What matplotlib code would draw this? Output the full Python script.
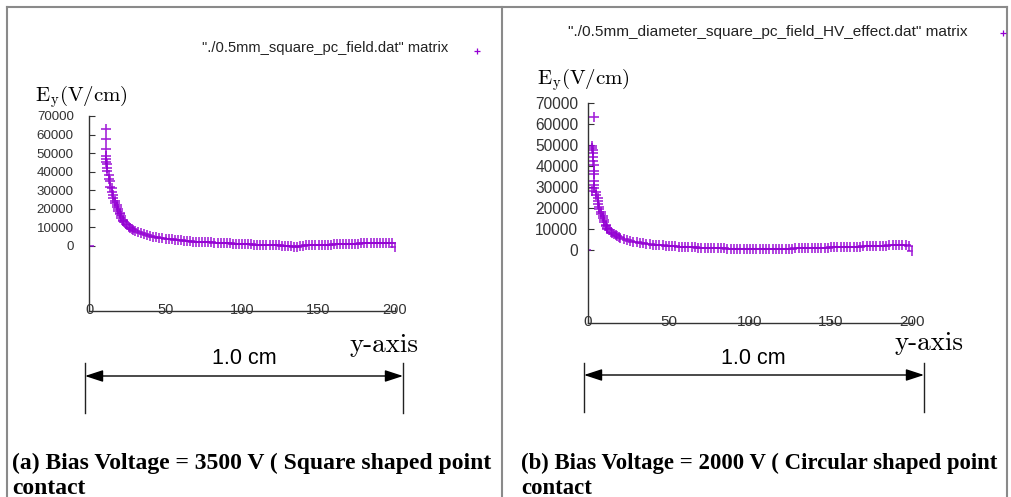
import numpy as np
import matplotlib
matplotlib.use("Agg")
import matplotlib.pyplot as plt
from matplotlib.lines import Line2D
from matplotlib.patches import FancyArrowPatch

plt.rcParams.update({"font.family": "Liberation Sans", "mathtext.fontset": "cm"})

W, H = 1011, 497
PURPLE = "#9400d3"

# ---- data: E_y (V/cm) vs grid index along y ----
# (a) 3500 V, square point contact
a_head_x = [0, 11, 11, 11, 11, 11, 11, 12, 12, 12, 13, 13, 14, 14, 15, 15, 16, 16, 17, 17,
            18, 18, 19, 19, 20, 20, 21, 21, 22, 22, 23, 24, 25, 26, 27, 28, 29]
a_head_y = [0, 63000, 57500, 52000, 48500, 47000, 45500, 44000, 42000, 40500, 38000, 36000,
            35000, 32000, 31500, 29000, 27500, 26000, 24500, 23000, 22000, 21000, 20000, 19000,
            18000, 17000, 16000, 15000, 14200, 13500, 12800, 12000, 11200, 10500, 9800, 9200, 8600]
a_tail_x = list(range(30, 200, 2)) + [200]
a_tail_y = [8000, 7400, 6800, 6300, 5900, 5500, 5100, 4800, 4500, 4200,
            4000, 3800, 3600, 3400, 3200, 3000, 2900, 2700, 2600, 2400,
            2300, 2200, 2100, 2000, 1900, 1900, 1800, 1700, 1600, 1500,
            1500, 1400, 1300, 1200, 1200, 1100, 1000, 900, 900, 800,
            700, 700, 600, 500, 500, 400, 300, 300, 200, 100,
            0, -200, -400, -300, 0, 200, 300, 400, 500, 500,
            600, 700, 700, 800, 800, 900, 900, 1000, 1000, 1100,
            1100, 1200, 1200, 1300, 1400, 1500, 1600, 1700, 1700, 1800,
            1800, 1700, 1700, 1600, 1500, -500]

# (b) 2000 V, circular point contact
b_head_x = [-1, 4, 2.5, 2.5, 3, 3, 3, 3, 4, 4, 4, 3.5, 3.5, 3.5, 2.5, 5, 5, 6, 6, 6,
            7, 7, 8, 8, 9, 9, 10, 10, 11, 11, 12, 12, 13, 14, 15, 16, 17, 18, 19, 20,
            22, 24, 26, 28]
b_head_y = [0, 63300, 49500, 48500, 47500, 46000, 44000, 42500, 40500, 37500, 36000,
            33000, 31000, 29500, 28000, 27500, 26000, 24500, 23000, 22000, 20500, 19500,
            18000, 17000, 16000, 15000, 14000, 13000, 12000, 11200, 10500, 10000, 9300,
            8600, 8000, 7400, 6900, 6400, 6000, 5600, 5000, 4500, 4100, 3800]
b_tail_x = list(range(30, 200, 2)) + [200]
b_tail_y = [3500, 3200, 3000, 2800, 2600, 2400, 2300, 2100, 2000, 1900,
            1800, 1700, 1600, 1500, 1400, 1300, 1200, 1100, 1100, 1000,
            900, 900, 800, 800, 700, 700, 600, 600, 500, 500,
            500, 400, 400, 400, 400, 300, 300, 300, 300, 300,
            300, 300, 400, 400, 400, 400, 500, 500, 500, 600,
            600, 700, 700, 800, 800, 800, 900, 900, 1000, 1000,
            1100, 1100, 1200, 1200, 1300, 1300, 1400, 1400, 1500, 1500,
            1600, 1600, 1700, 1700, 1800, 1800, 1900, 1900, 2000, 2000,
            2000, 2100, 2100, 2000, 1800, -400]

YTICKS = list(range(0, 70001, 10000))
XTICKS = [0, 50, 100, 150, 200]

legend_a = '"./0.5mm_square_pc_field.dat" matrix'
legend_b = '"./0.5mm_diameter_square_pc_field_HV_effect.dat" matrix'
cap_a = ["(a) Bias Voltage = 3500 V ( Square shaped point", "contact"]
cap_b = ["(b) Bias Voltage = 2000 V ( Circular shaped point", "contact"]


def fx(x):
    return x / W


def fy(y):
    return 1 - y / H


fig = plt.figure(figsize=(W / 100, H / 100), dpi=100)


def panel(rect, xs, ys, ysize, xsize, ypad):
    ax = fig.add_axes(rect)
    ax.plot(xs, ys, ls="none", marker="+", ms=6.5, mew=1.2, color=PURPLE, alpha=0.85)
    ax.set_xlim(0, 200)
    ax.set_ylim(-35000, 70000)
    ax.set_yticks(YTICKS)
    ax.set_xticks(XTICKS)
    for s in ("top", "right"):
        ax.spines[s].set_visible(False)
    for s in ("left", "bottom"):
        ax.spines[s].set_color("#333333")
        ax.spines[s].set_linewidth(1.0)
    ax.tick_params(axis="y", direction="in", length=4, color="#333333",
                   labelsize=ysize, labelcolor="#333333", pad=ypad)
    ax.tick_params(axis="x", direction="in", length=3, color="#333333",
                   labelsize=xsize, labelcolor="#333333", pad=-xsize * 0.55)
    ax.patch.set_alpha(0)
    return ax


# left panel: axis box 89..395 px, 116..311 px
panel([fx(89), fy(311), fx(395) - fx(89), fy(116) - fy(311)],
      a_head_x + a_tail_x, a_head_y + a_tail_y, 9.6, 10.5, 11)
# right panel: axis box 588..912 px, 103..323 px
panel([fx(588), fy(323), fx(912) - fx(588), fy(103) - fy(323)],
      b_head_x + b_tail_x, b_head_y + b_tail_y, 11.2, 11, 7)

# frame lines
for (x0, y0, x1, y1) in [(7, 7, 1007, 7), (7, 7, 7, 497), (502, 7, 502, 497), (1007, 7, 1007, 497)]:
    fig.add_artist(Line2D([fx(x0), fx(x1)], [fy(y0), fy(y1)], color="#8a8a8a", lw=1.5,
                          transform=fig.transFigure))

# legends
fig.text(fx(448), fy(48), legend_a, ha="right", va="center", fontsize=10.6, color="#222222")
fig.add_artist(Line2D([fx(477)], [fy(51)], marker="+", ms=4, mew=0.9, color=PURPLE,
                      transform=fig.transFigure))
fig.text(fx(968), fy(32), legend_b, ha="right", va="center", fontsize=11.1, color="#222222")
fig.add_artist(Line2D([fx(1003)], [fy(33)], marker="+", ms=4, mew=0.9, color=PURPLE,
                      transform=fig.transFigure))

# axis titles
fig.text(fx(35), fy(97), r"E$_\mathrm{y}$(V/cm)", family="cmr10", fontsize=15,
         ha="left", va="center")
fig.text(fx(537), fy(80), r"E$_\mathrm{y}$(V/cm)", family="cmr10", fontsize=15,
         ha="left", va="center")
fig.text(fx(384), fy(345), "y-axis", family="cmr10", fontsize=19.5, ha="center", va="center")
fig.text(fx(929), fy(343), "y-axis", family="cmr10", fontsize=19.5, ha="center", va="center")

# 1.0 cm scale arrows
for (xl, xr, ya, yt, yb, xc) in [(85, 403, 376, 363, 413, 244), (584, 924, 375, 363, 412, 753)]:
    fig.add_artist(FancyArrowPatch((fx(xl), fy(ya)), (fx(xr), fy(ya)),
                                   transform=fig.transFigure,
                                   arrowstyle="<|-|>,head_length=11,head_width=3.6",
                                   color="black", lw=1.0, shrinkA=0, shrinkB=0))
    for xv in (xl, xr):
        fig.add_artist(Line2D([fx(xv), fx(xv)], [fy(yt), fy(yb)], color="#222222", lw=1.0,
                              transform=fig.transFigure))
    fig.text(fx(xc), fy(358), "1.0 cm", fontsize=15.5, ha="center", va="center")

# captions
for (x0, lines, fs) in [(12, cap_a, 17), (521, cap_b, 16.4)]:
    fig.text(fx(x0), fy(463), lines[0], family="Liberation Serif", fontweight="bold",
             fontsize=fs, ha="left", va="center")
    fig.text(fx(x0), fy(488), lines[1], family="Liberation Serif", fontweight="bold",
             fontsize=fs, ha="left", va="center")

fig.savefig("out.png", dpi=100)
